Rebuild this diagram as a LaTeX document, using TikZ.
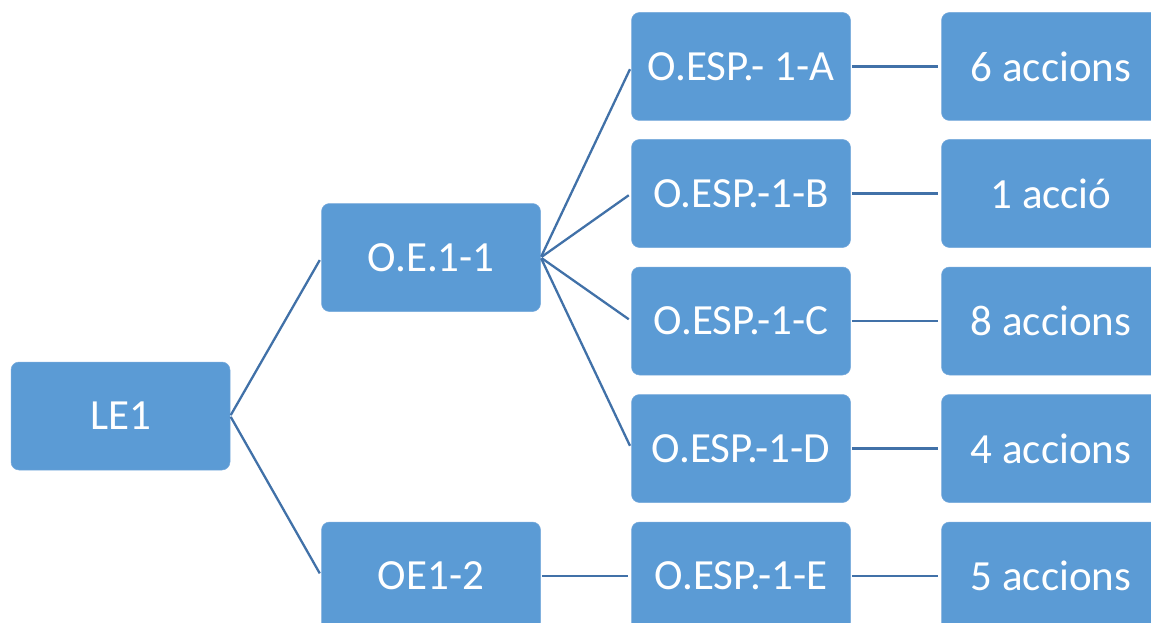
\documentclass[tikz,border=0pt]{standalone}
\usepackage{fontspec}
\setmainfont{Carlito}
\usepackage{xcolor}
\usepackage{tikz}
\usetikzlibrary{positioning}

\definecolor{boxblue}{RGB}{91,155,213}
\definecolor{lineblue}{RGB}{65,113,168}

\begin{document}
\begin{tikzpicture}[x=1pt,y=-1pt,
  objbox/.style={draw={rgb,255:red,120;green,170;blue,220},line width=0.5,fill=boxblue,rounded corners=8,
    minimum width=219,minimum height=108,inner sep=0,text=white,
    font=\fontsize{43}{50}\selectfont},
  link/.style={draw=lineblue,line width=2.3,shorten <=1,shorten >=3}]
  \useasboundingbox (0,0) rectangle (1151,623);

  % Level 1
  \node [objbox] (le1) at (120.5,416) {LE1};

  % Level 2
  \node [objbox] (oe11) at (431,257.5) {O.E.1-1};
  \node [objbox] (oe12) at (431,576) {OE1-2};

  % Level 3
  \node [objbox] (espa) at (741,66.5) {O.ESP.- 1-A};
  \node [objbox] (espb) at (741,193.5) {O.ESP.-1-B};
  \node [objbox] (espc) at (741,321) {O.ESP.-1-C};
  \node [objbox] (espd) at (741,448.5) {O.ESP.-1-D};
  \node [objbox] (espe) at (741,576) {O.ESP.-1-E};

  % Level 4
  \node [objbox] (acta) at (1051,66.5) {6 accions};
  \node [objbox] (actb) at (1051,193.5) {1 acció};
  \node [objbox] (actc) at (1051,321) {8 accions};
  \node [objbox] (actd) at (1051,448.5) {4 accions};
  \node [objbox] (acte) at (1051,576) {5 accions};

  % Connectors
  \draw [link] (le1.east) -- (oe11.west);
  \draw [link] (le1.east) -- (oe12.west);
  \foreach \n in {espa,espb,espc,espd}
    \draw [link] (oe11.east) -- (\n.west);
  \draw [link] (oe12.east) -- (espe.west);
  \foreach \a/\b in {espa/acta,espb/actb,espc/actc,espd/actd,espe/acte}
    \draw [link] (\a.east) -- (\b.west);

\end{tikzpicture}
\end{document}
